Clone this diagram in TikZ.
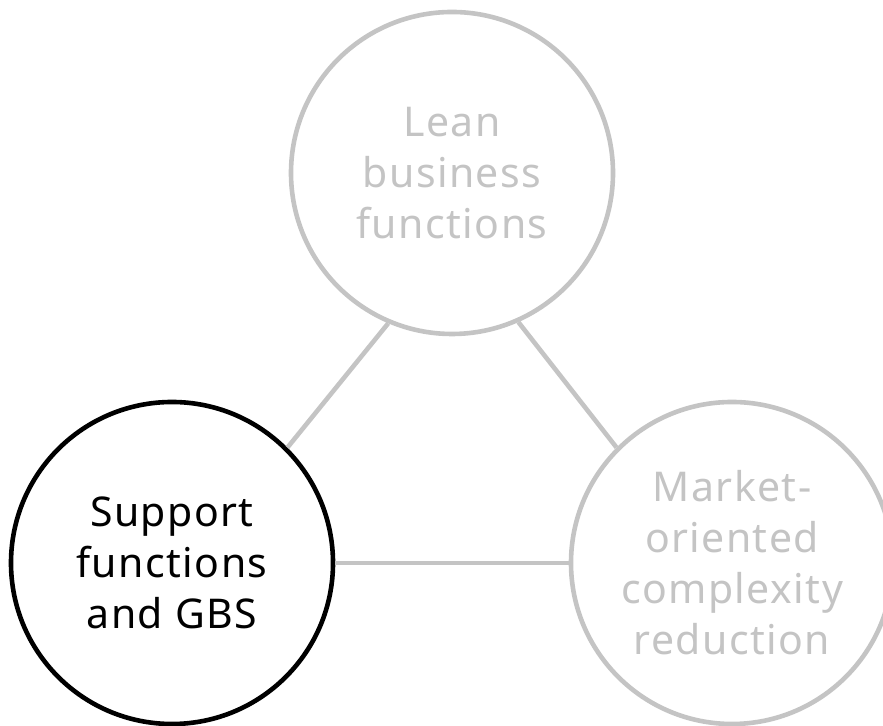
\documentclass[tikz,border=0pt]{standalone}
\usepackage{fontspec}
\setmainfont[LetterSpace=3.5]{Noto Sans}
\usepackage{xcolor}
\usetikzlibrary{positioning}
\definecolor{ringgray}{HTML}{C4C4C4}

\begin{document}
\begin{tikzpicture}[-,line width=2.3pt,on grid,node distance=195pt and 140pt]
 	\tikzstyle{ring}=[circle, draw=ringgray, text=ringgray, fill=white, minimum size=161pt, inner sep=0pt, align=center, font=\fontsize{20.5}{25.5}\selectfont]
 	\tikzstyle{focus}=[ring, draw=black, text=black]
 	\useasboundingbox (0,0) rectangle (441.5pt,363pt);
 	\node[ring]  (L) at (226pt,276.5pt) {Lean\\business\\functions};
 	\node[focus] (S) [below left=of L]  {Support\\functions\\and GBS};
 	\node[ring]  (M) [below right=of L] {Market-\\oriented\\complexity\\reduction};
	\path[ringgray]
	(S.45) edge (L.247)
	(L.294) edge (M.135)
	(S.east) edge (M.west);
\end{tikzpicture}
\end{document}
